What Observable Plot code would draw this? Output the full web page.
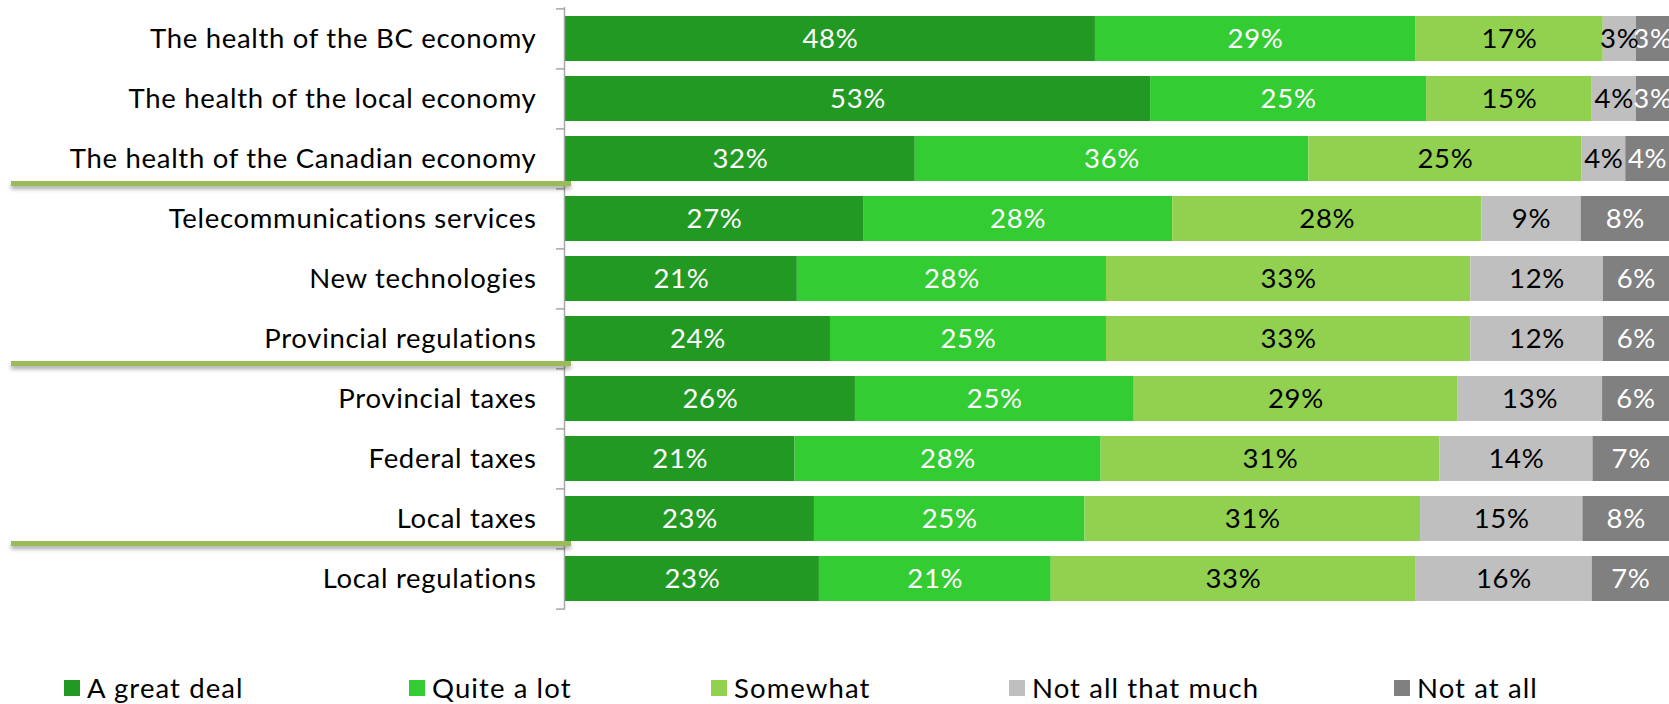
<!DOCTYPE html>
<html>
<head>
<meta charset="utf-8">
<script src="https://cdn.jsdelivr.net/npm/d3@7"></script>
<script src="https://cdn.jsdelivr.net/npm/@observablehq/plot@0.6"></script>
<style>
  html, body { margin: 0; padding: 0; background: #fff; }
  body { width: 1669px; height: 704px; position: relative; overflow: hidden; font-family: Lato, "Open Sans", sans-serif; }
  #chart { position: absolute; left: 0; top: 0; }
  #chart svg text { letter-spacing: 0.7px; }
  .sep { position: absolute; height: 5px; background: #9bbb59; box-shadow: 0 3px 4px rgba(0,0,0,0.35); }
  #legend { position: absolute; left: 0; top: 671px; width: 1669px; height: 33px; }
  .lg { position: absolute; top: 0; display: flex; align-items: center; font-size: 27.5px; letter-spacing: 1.1px; color: #000; white-space: nowrap; }
  .lg span.sw { display: inline-block; width: 16px; height: 16px; margin-right: 7px; }
</style>
</head>
<body>
<div id="chart"></div>
<div id="legend"></div>
<script>
const items = [
  "The health of the BC economy",
  "The health of the local economy",
  "The health of the Canadian economy",
  "Telecommunications services",
  "New technologies",
  "Provincial regulations",
  "Provincial taxes",
  "Federal taxes",
  "Local taxes",
  "Local regulations"
];
const responses = ["A great deal", "Quite a lot", "Somewhat", "Not all that much", "Not at all"];
const greatDeal = [48, 53, 32, 27, 21, 24, 26, 21, 23, 23];
const quiteALot = [29, 25, 36, 28, 28, 25, 25, 28, 25, 21];
const somewhat  = [17, 15, 25, 28, 33, 33, 29, 31, 31, 33];
const notMuch   = [3, 4, 4, 9, 12, 12, 13, 14, 15, 16];
const notAtAll  = [3, 3, 4, 8, 6, 6, 6, 7, 8, 7];
const colors = ["#229922", "#33cc33", "#92d050", "#bfbfbf", "#808080"];
const whiteLabelResponses = ["A great deal", "Quite a lot", "Not at all"];
const separatorsAfter = ["The health of the Canadian economy", "Provincial regulations", "Local taxes"];
const legendX = [64, 409, 711, 1009, 1394];

const series = [greatDeal, quiteALot, somewhat, notMuch, notAtAll];
const rows = items.flatMap((item, i) => series.map((vals, j) => ({item, response: responses[j], value: vals[i]})));

const W = 1669, H = 620, mT = 7, mB = 11, mL = 565;
const step = (H - mT - mB) / items.length;
const fs = 27.5;

const stackOpts = {x: "value", y: "item", z: "response", offset: "normalize", order: responses};

const chart = Plot.plot({
  width: W, height: H,
  marginTop: mT, marginBottom: mB, marginLeft: mL, marginRight: 0,
  style: {fontFamily: "Lato, 'Open Sans', sans-serif", color: "#000", background: "#fff"},
  x: {axis: null, domain: [0, 1]},
  y: {domain: items, paddingInner: 0.25, paddingOuter: 0.125, axis: null},
  color: {domain: responses, range: colors},
  marks: [
    Plot.barX(rows, Plot.stackX({...stackOpts, fill: "response"})),
    Plot.text(rows, Plot.stackX({...stackOpts, text: d => whiteLabelResponses.includes(d.response) ? d.value + "%" : null, fill: "white", fontSize: fs})),
    Plot.text(rows, Plot.stackX({...stackOpts, text: d => whiteLabelResponses.includes(d.response) ? null : d.value + "%", fill: "black", fontSize: fs})),
    Plot.axisY({tickSize: 0, tickPadding: 29, fontSize: fs, label: null, fill: "#000"}),
    Plot.axisY(items, {tickSize: 9, tickFormat: () => "", dy: -step / 2, stroke: "#a6a6a6", strokeWidth: 1.5, label: null}),
    Plot.axisY([items[items.length - 1]], {tickSize: 9, tickFormat: () => "", dy: step / 2, stroke: "#a6a6a6", strokeWidth: 1.5, label: null}),
    Plot.ruleX([0], {stroke: "#a6a6a6", strokeWidth: 1.5, dx: -1})
  ]
});
document.getElementById("chart").appendChild(chart);

// separator lines positioned from the y scale
const ys = chart.scale("y");
for (const cat of separatorsAfter) {
  const yb = ys.apply(cat) + ys.bandwidth + 2;
  const d = document.createElement("div");
  d.className = "sep";
  d.style.left = "11px";
  d.style.width = "560px";
  d.style.top = (yb - 2.5) + "px";
  document.body.appendChild(d);
}

// legend
const lg = document.getElementById("legend");
responses.forEach((r, i) => {
  const e = document.createElement("div");
  e.className = "lg";
  e.style.left = legendX[i] + "px";
  e.innerHTML = `<span class="sw" style="background:${colors[i]}"></span>${r}`;
  lg.appendChild(e);
});
</script>
</body>
</html>
